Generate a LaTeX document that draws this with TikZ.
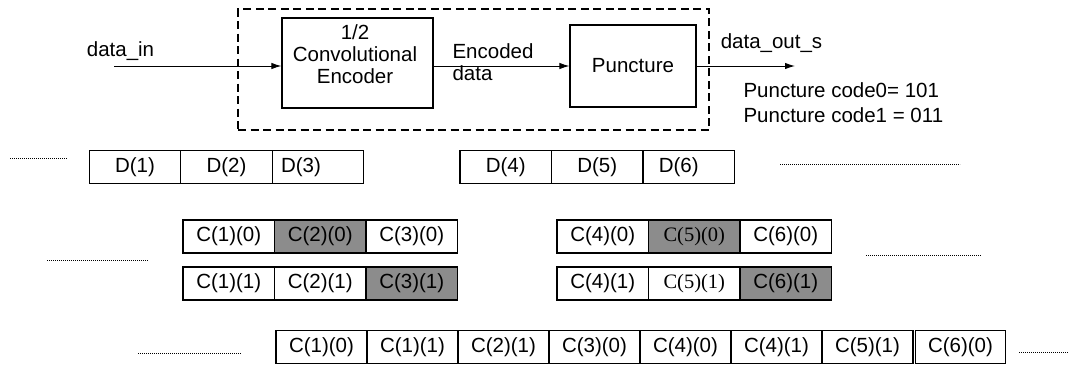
\documentclass[tikz,border=0pt]{standalone}
\usepackage{fontspec}
\setmainfont{Liberation Sans}
\newfontfamily\timesfont{Liberation Serif}
\usetikzlibrary{arrows.meta}
\definecolor{punctured}{RGB}{140,140,140}

\begin{document}
\begin{tikzpicture}[x=1pt, y=-1pt, node distance=91.5pt, font=\fontsize{20.5}{22}\selectfont,
	block/.style={draw, line width=1.2pt, inner sep=0pt},
	cell/.style={draw, line width=1.1pt, minimum width=91.5pt, minimum height=33pt, inner sep=0pt},
	grey cell/.style={cell, fill=punctured},
	dots/.style={line width=0.9pt, dash pattern=on 1.2pt off 0.8pt},
	wire/.style={line width=1pt, -{Latex[length=10pt, width=6.5pt]}}]

			\useasboundingbox (0,0) rectangle (1070,364);

			% encoder and puncture blocks
			\node[draw, line width=1.6pt, dash pattern=on 8pt off 4.5pt, minimum width=471pt, minimum height=121pt] (frame) at (473.5,69.5) {};
			\node[block, minimum width=151pt, minimum height=90pt] (enc) at (357.5,63) {};
			\node[align=center] (enctext) at (355,54) {1/2\\Convolutional\\Encoder};
			\node[block, minimum width=126pt, minimum height=82pt] (punc) at (633,66) {Puncture};

			\coordinate (in) at (114,66);
			\coordinate (out) at (795,66);

			\node (datain) at (120.5,51) {data\_in};
			\node[align=left, anchor=west] (encdata) at (449,62) {Encoded\\data};
			\node (dataout) at (771.5,43) {data\_out\_s};
			\node[anchor=west] (code0) at (740,90) {Puncture code0= 101};
			\node[anchor=west] (code1) at (740,115) {Puncture code1 = 011};

			% draw signal path
			\draw[wire] (in) -- (in -| enc.west);
			\draw[wire] (enc.east |- punc) -- (punc.west);
			\draw[wire] (punc.east) -- (out);

			% data bits
			\node[cell] (d1) at (135,167) {D(1)};
			\node[cell] (d2) [right of=d1] {D(2)};
			\node[cell] (d3) [right of=d2] {D(3)\hspace*{34pt}};

			\node[cell] (d4) at (505.75,167) {D(4)};
			\node[cell] (d5) [right of=d4] {D(5)};
			\node[cell] (d6) [right of=d5] {D(6)\hspace*{20pt}};

			% coded bits, first output
			\node[cell] (c10) at (228.75,236.5) {C(1)(0)};
			\node[grey cell] (c20) [right of=c10] {C(2)(0)};
			\node[cell] (c30) [right of=c20] {C(3)(0)};

			\node[cell] (c40) at (602.75,236.5) {C(4)(0)};
			\node[grey cell] (c50) [right of=c40] {\timesfont C(5)(0)};
			\node[cell] (c60) [right of=c50] {C(6)(0)};

			% coded bits, second output
			\node[cell] (c11) at (228.75,283.5) {C(1)(1)};
			\node[cell] (c21) [right of=c11] {C(2)(1)};
			\node[grey cell] (c31) [right of=c21] {C(3)(1)};

			\node[cell] (c41) at (602.75,283.5) {C(4)(1)};
			\node[cell] (c51) [right of=c41] {\timesfont C(5)(1)};
			\node[grey cell] (c61) [right of=c51] {C(6)(1)};

			% punctured stream
			\begin{scope}[node distance=91pt, cell/.append style={minimum width=91pt}]
			\node[cell] (o1) at (321.5,347) {C(1)(0)};
			\node[cell] (o2) [right of=o1] {C(1)(1)};
			\node[cell] (o3) [right of=o2] {C(2)(1)};
			\node[cell] (o4) [right of=o3] {C(3)(0)};
			\node[cell] (o5) [right of=o4] {C(4)(0)};
			\node[cell] (o6) [right of=o5] {C(4)(1)};
			\node[cell] (o7) [right of=o6] {C(5)(1)};
			\node[cell, minimum width=90pt] (o8) [right of=o7, xshift=2pt] {C(6)(0)};
			\end{scope}

			% draw continuation dots
			\draw[dots] (10,158) -- (67,158);
			\draw[dots] (780,164) -- (960,164);
			\draw[dots] (866,255) -- (981,255);
			\draw[dots] (47,260) -- (148,260);
			\draw[dots] (138,353) -- (241,353);
			\draw[dots] (1019,352) -- (1068,352);

		\end{tikzpicture}
\end{document}
